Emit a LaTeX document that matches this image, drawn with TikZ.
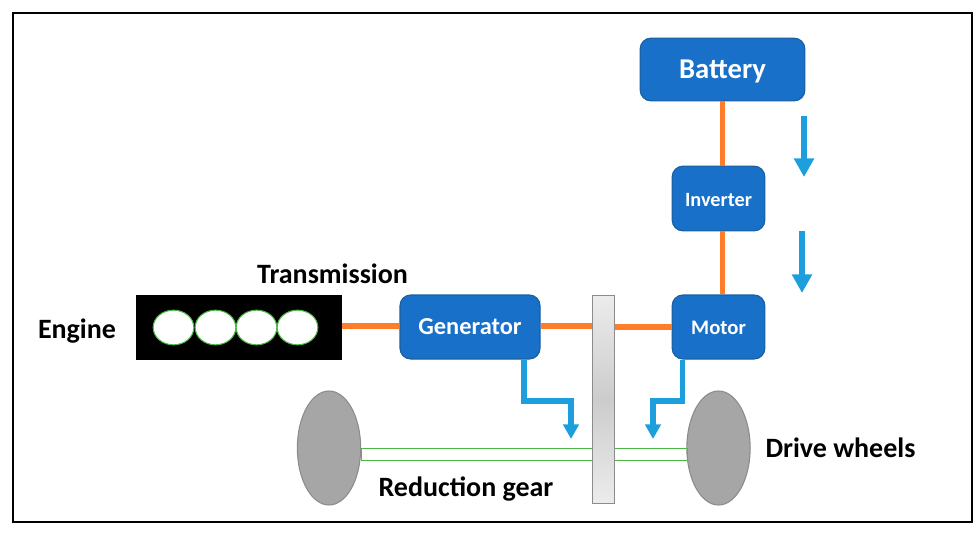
\documentclass[tikz,border=0pt]{standalone}
\usepackage{fontspec}
\setmainfont{Carlito}
\usepackage{xcolor}
\usetikzlibrary{arrows.meta, positioning, shapes.geometric, calc}
\definecolor{boxblue}{HTML}{1870C8}
\definecolor{boxedge}{HTML}{1B5E9E}
\definecolor{powerorange}{HTML}{FF7D2A}
\definecolor{flowblue}{HTML}{1C9FDC}
\definecolor{wheelgrey}{HTML}{A6A6A6}
\definecolor{wheeledge}{HTML}{8C8C8C}
\definecolor{shaftgreen}{HTML}{4DB848}
\begin{document}
\begin{tikzpicture}[
      x=0.75pt, y=-0.75pt,
      unit/.style={draw=boxedge, thick, rounded corners=8pt, fill=boxblue, text=white,
                   font=\bfseries, inner sep=0pt},
      lbl/.style={font=\fontsize{21}{24}\selectfont\bfseries, text=black, inner sep=0pt},
      cyl/.style={ellipse, draw=shaftgreen, thick, fill=white, minimum width=30.5pt,
                  minimum height=26pt, inner sep=0pt},
      wheel/.style={ellipse, draw=wheeledge, thick, fill=wheelgrey, minimum width=47.5pt,
                    minimum height=85.5pt, inner sep=0pt},
      power/.style={draw=powerorange, line width=3.8pt},
      flow/.style={draw=flowblue, line width=3.8pt, -{Triangle[width=11.5pt,length=11pt]}},
      flowbig/.style={draw=flowblue, line width=4.5pt, -{Triangle[width=14.5pt,length=14pt]}},
      shaft/.style={draw=shaftgreen, line width=0.7pt},
    ]
    \useasboundingbox (0,0) rectangle (980,535);
    \node[draw=black, line width=1.5pt, minimum width=719pt, minimum height=381.5pt, inner sep=0pt] (frame) at (492.5,267.5) {};

    \node[unit, minimum width=123.5pt, minimum height=47pt, font=\fontsize{21.5}{24}\selectfont\bfseries] (battery) at (722.5,69.5) {\raisebox{-1.5pt}[\height][\depth]{Battery}};
    \node[unit, minimum width=69.5pt, minimum height=48.5pt, font=\fontsize{15.2}{17}\selectfont\bfseries] (inverter) at (718.5,198.5) {\raisebox{-1.2pt}[\height][\depth]{Inverter}};
    \node[unit, minimum width=69.5pt, minimum height=48pt, font=\fontsize{15.5}{17}\selectfont\bfseries] (motor) at (718.5,327) {\raisebox{-0.8pt}[\height][\depth]{Motor}};
    \node[unit, minimum width=105pt, minimum height=48pt, font=\fontsize{18.3}{20}\selectfont\bfseries] (generator) at (470,327) {Generator};

    \node[draw=black, fill=black, minimum width=154pt, minimum height=48pt, inner sep=0pt] (engine) at (239,327) {};
    \node[cyl] (cylA) at (173.5,327.5) {};
    \node[cyl] (cylB) at (215.5,327.5) {};
    \node[cyl] (cylC) at (256.5,327.5) {};
    \node[cyl] (cylD) at (297.5,327.5) {};

    \node[wheel] (wheelL) at (329,448) {};
    \node[wheel] (wheelR) at (718.5,448) {};
    \node[shaft, rectangle, minimum width=244.5pt, minimum height=9pt, inner sep=0pt] (axle) at (524,454) {};
    \node[draw=wheeledge, thick, top color=gray!15, bottom color=gray!15, middle color=gray!40, minimum width=17pt, minimum height=156.5pt, inner sep=0pt] (gear) at (603.5,399.5) {};

    \draw[power] ($(engine.east)+(0,-1)$) -- ($(generator.west)+(0,-1)$);
    \draw[power] ($(generator.east)+(0,-1)$) -- ($(generator.east -| gear.west)+(0,-1)$);
    \draw[power] (gear.east |- motor.west) -- (motor.west);
    \draw[power] (battery.south) -- (battery.south |- inverter.north);
    \draw[power] (inverter.south -| battery.south) -- (motor.north -| battery.south);

    \draw[flow] ($(generator.south)+(54,0)$) |- (571,401) -- (571,439);
    \draw[flow] ($(motor.south)+(-36,0)$) |- (653,401) -- (653,439);

    \coordinate (flowAstart) at (804,116);
    \coordinate (flowAend) at (804,177);
    \coordinate (flowBstart) at (802,231);
    \coordinate (flowBend) at (802,293);
    \draw[flowbig] (flowAstart) -- (flowAend);
    \draw[flowbig] (flowBstart) -- (flowBend);

    \node[lbl] (transmission) at (332.5,274) {Transmission};
    \node[lbl] (enginelbl) at (77,331) {Engine};
    \node[lbl] (reduction) at (466,489) {Reduction gear};
    \node[lbl] (drive) at (840.5,448) {Drive wheels};
    \end{tikzpicture}
\end{document}
